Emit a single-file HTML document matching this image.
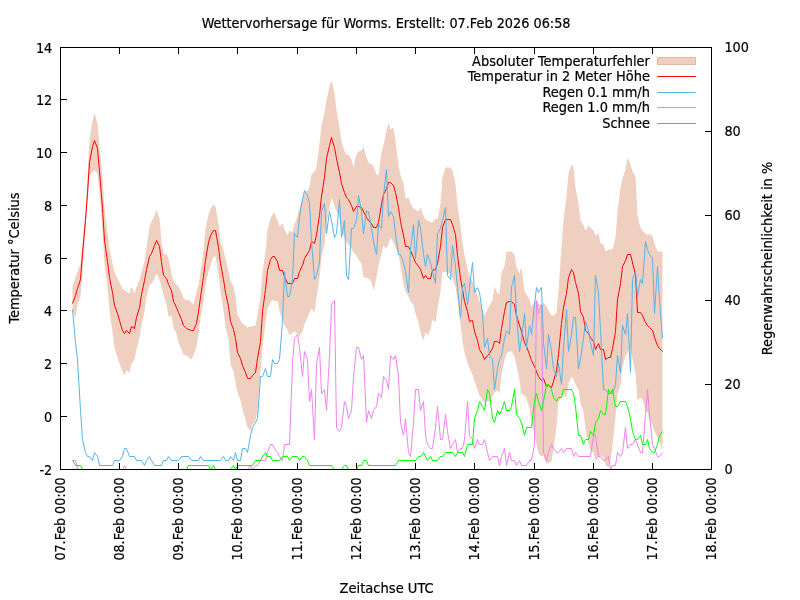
<!DOCTYPE html>
<html lang="de"><head><meta charset="utf-8"><title>Wettervorhersage für Worms</title>
<style>html,body{margin:0;padding:0;background:#fff;overflow:hidden}svg{display:block}text{font-family:"DejaVu Sans Condensed","DejaVu Sans","Liberation Sans",sans-serif;font-stretch:condensed;font-size:14.3px;fill:#000;stroke:#000;stroke-width:0.2px;stroke-linejoin:round}</style></head><body>
<svg width="800" height="600" viewBox="0 0 800 600">
<rect width="800" height="600" fill="#fff"/>
<defs><clipPath id="c"><rect x="60.5" y="47.5" width="651" height="422"/></clipPath></defs>
<g clip-path="url(#c)" fill="none" stroke-linejoin="miter" stroke-miterlimit="3.8" stroke-linecap="butt" stroke-width="1">
<path d="M72.5,286.5 L75.5,277.5 L77.5,271.5 L80.5,263.5 L82.5,243.5 L85.5,210.5 L87.5,175.5 L89.5,140.5 L92.5,120.5 L94.5,112.5 L97.5,123.5 L99.5,146.5 L102.5,177.5 L104.5,207.5 L107.5,232.5 L109.5,249.5 L112.5,263.5 L114.5,272.5 L117.5,278.5 L119.5,282.5 L122.5,288.5 L124.5,290.5 L126.5,291.5 L129.5,293.5 L131.5,286.5 L134.5,293.5 L136.5,287.5 L139.5,280.5 L141.5,272.5 L144.5,261.5 L146.5,247.5 L149.5,226.5 L151.5,221.5 L154.5,215.5 L156.5,209.5 L159.5,218.5 L161.5,241.5 L163.5,253.5 L166.5,254.5 L168.5,258.5 L171.5,273.5 L173.5,280.5 L176.5,284.5 L178.5,286.5 L181.5,292.5 L183.5,298.5 L186.5,300.5 L188.5,299.5 L191.5,302.5 L193.5,304.5 L196.5,291.5 L198.5,285.5 L200.5,271.5 L203.5,251.5 L205.5,228.5 L208.5,214.5 L210.5,208.5 L213.5,204.5 L215.5,206.5 L218.5,223.5 L220.5,241.5 L223.5,250.5 L225.5,258.5 L228.5,271.5 L230.5,280.5 L233.5,286.5 L235.5,296.5 L237.5,314.5 L240.5,320.5 L242.5,323.5 L245.5,325.5 L247.5,327.5 L250.5,326.5 L252.5,326.5 L255.5,325.5 L257.5,314.5 L260.5,297.5 L262.5,272.5 L265.5,251.5 L267.5,230.5 L270.5,218.5 L272.5,214.5 L274.5,212.5 L277.5,220.5 L279.5,226.5 L282.5,223.5 L284.5,229.5 L287.5,235.5 L289.5,230.5 L292.5,232.5 L294.5,224.5 L297.5,216.5 L299.5,207.5 L302.5,199.5 L304.5,192.5 L307.5,190.5 L309.5,187.5 L311.5,174.5 L314.5,171.5 L316.5,167.5 L319.5,143.5 L321.5,125.5 L324.5,112.5 L326.5,100.5 L329.5,86.5 L331.5,80.5 L334.5,93.5 L336.5,110.5 L339.5,127.5 L341.5,141.5 L344.5,151.5 L346.5,154.5 L348.5,154.5 L351.5,159.5 L353.5,167.5 L356.5,154.5 L358.5,151.5 L361.5,150.5 L363.5,146.5 L366.5,157.5 L368.5,162.5 L371.5,164.5 L373.5,166.5 L376.5,174.5 L378.5,175.5 L381.5,152.5 L383.5,145.5 L386.5,130.5 L388.5,122.5 L390.5,129.5 L393.5,127.5 L395.5,141.5 L398.5,165.5 L400.5,175.5 L403.5,183.5 L405.5,198.5 L408.5,197.5 L410.5,203.5 L413.5,208.5 L415.5,209.5 L418.5,211.5 L420.5,207.5 L423.5,215.5 L425.5,219.5 L427.5,220.5 L430.5,222.5 L432.5,222.5 L435.5,218.5 L437.5,219.5 L440.5,203.5 L442.5,177.5 L445.5,167.5 L447.5,167.5 L450.5,167.5 L452.5,170.5 L455.5,184.5 L457.5,205.5 L460.5,225.5 L462.5,242.5 L464.5,255.5 L467.5,268.5 L469.5,275.5 L472.5,281.5 L474.5,288.5 L477.5,295.5 L479.5,301.5 L482.5,309.5 L484.5,315.5 L487.5,309.5 L489.5,305.5 L492.5,300.5 L494.5,286.5 L497.5,293.5 L499.5,293.5 L501.5,272.5 L504.5,266.5 L506.5,251.5 L509.5,251.5 L511.5,251.5 L514.5,254.5 L516.5,267.5 L519.5,273.5 L521.5,266.5 L524.5,291.5 L526.5,294.5 L529.5,299.5 L531.5,306.5 L534.5,302.5 L536.5,300.5 L538.5,303.5 L541.5,305.5 L543.5,302.5 L546.5,306.5 L548.5,310.5 L551.5,315.5 L553.5,315.5 L556.5,312.5 L558.5,290.5 L561.5,246.5 L563.5,220.5 L566.5,196.5 L568.5,173.5 L571.5,164.5 L573.5,167.5 L575.5,187.5 L578.5,204.5 L580.5,220.5 L583.5,225.5 L585.5,230.5 L588.5,225.5 L590.5,227.5 L593.5,230.5 L595.5,235.5 L598.5,233.5 L600.5,243.5 L603.5,244.5 L605.5,251.5 L608.5,249.5 L610.5,249.5 L612.5,249.5 L615.5,237.5 L617.5,212.5 L620.5,187.5 L622.5,178.5 L625.5,169.5 L627.5,157.5 L630.5,164.5 L632.5,171.5 L635.5,176.5 L637.5,215.5 L640.5,227.5 L642.5,230.5 L645.5,233.5 L647.5,235.5 L649.5,233.5 L652.5,236.5 L654.5,243.5 L657.5,251.5 L659.5,251.5 L662.5,251.5 L662.5,450.5 L659.5,441.5 L657.5,437.5 L654.5,431.5 L652.5,424.5 L649.5,419.5 L647.5,412.5 L645.5,410.5 L642.5,399.5 L640.5,397.5 L637.5,400.5 L635.5,373.5 L632.5,358.5 L630.5,348.5 L627.5,352.5 L625.5,355.5 L622.5,367.5 L620.5,385.5 L617.5,393.5 L615.5,416.5 L612.5,445.5 L610.5,460.5 L608.5,467.5 L605.5,465.5 L603.5,457.5 L600.5,455.5 L598.5,457.5 L595.5,461.5 L593.5,452.5 L590.5,450.5 L588.5,443.5 L585.5,429.5 L583.5,411.5 L580.5,403.5 L578.5,389.5 L575.5,384.5 L573.5,379.5 L571.5,376.5 L568.5,383.5 L566.5,397.5 L563.5,393.5 L561.5,397.5 L558.5,401.5 L556.5,426.5 L553.5,448.5 L551.5,461.5 L548.5,462.5 L546.5,464.5 L543.5,455.5 L541.5,456.5 L538.5,453.5 L536.5,444.5 L534.5,434.5 L531.5,421.5 L529.5,408.5 L526.5,398.5 L524.5,395.5 L521.5,393.5 L519.5,380.5 L516.5,365.5 L514.5,356.5 L511.5,351.5 L509.5,351.5 L506.5,353.5 L504.5,360.5 L501.5,374.5 L499.5,393.5 L497.5,390.5 L494.5,392.5 L492.5,396.5 L489.5,401.5 L487.5,401.5 L484.5,402.5 L482.5,399.5 L479.5,395.5 L477.5,389.5 L474.5,381.5 L472.5,374.5 L469.5,368.5 L467.5,362.5 L464.5,352.5 L462.5,341.5 L460.5,324.5 L457.5,300.5 L455.5,286.5 L452.5,278.5 L450.5,274.5 L447.5,272.5 L445.5,272.5 L442.5,271.5 L440.5,291.5 L437.5,308.5 L435.5,322.5 L432.5,319.5 L430.5,329.5 L427.5,335.5 L425.5,331.5 L423.5,340.5 L420.5,332.5 L418.5,322.5 L415.5,313.5 L413.5,304.5 L410.5,301.5 L408.5,296.5 L405.5,291.5 L403.5,284.5 L400.5,266.5 L398.5,253.5 L395.5,247.5 L393.5,242.5 L390.5,237.5 L388.5,243.5 L386.5,248.5 L383.5,245.5 L381.5,253.5 L378.5,265.5 L376.5,277.5 L373.5,290.5 L371.5,281.5 L368.5,278.5 L366.5,277.5 L363.5,277.5 L361.5,263.5 L358.5,259.5 L356.5,255.5 L353.5,252.5 L351.5,248.5 L348.5,244.5 L346.5,242.5 L344.5,237.5 L341.5,230.5 L339.5,218.5 L336.5,211.5 L334.5,206.5 L331.5,197.5 L329.5,207.5 L326.5,223.5 L324.5,244.5 L321.5,256.5 L319.5,278.5 L316.5,297.5 L314.5,312.5 L311.5,308.5 L309.5,312.5 L307.5,317.5 L304.5,324.5 L302.5,331.5 L299.5,336.5 L297.5,333.5 L294.5,331.5 L292.5,332.5 L289.5,335.5 L287.5,329.5 L284.5,325.5 L282.5,319.5 L279.5,311.5 L277.5,300.5 L274.5,301.5 L272.5,299.5 L270.5,302.5 L267.5,308.5 L265.5,322.5 L262.5,347.5 L260.5,372.5 L257.5,409.5 L255.5,420.5 L252.5,424.5 L250.5,430.5 L247.5,427.5 L245.5,419.5 L242.5,409.5 L240.5,400.5 L237.5,392.5 L235.5,382.5 L233.5,371.5 L230.5,364.5 L228.5,338.5 L225.5,327.5 L223.5,310.5 L220.5,290.5 L218.5,274.5 L215.5,256.5 L213.5,256.5 L210.5,265.5 L208.5,271.5 L205.5,285.5 L203.5,301.5 L200.5,317.5 L198.5,333.5 L196.5,346.5 L193.5,355.5 L191.5,359.5 L188.5,357.5 L186.5,355.5 L183.5,354.5 L181.5,349.5 L178.5,342.5 L176.5,333.5 L173.5,327.5 L171.5,315.5 L168.5,316.5 L166.5,304.5 L163.5,294.5 L161.5,287.5 L159.5,279.5 L156.5,273.5 L154.5,278.5 L151.5,283.5 L149.5,285.5 L146.5,296.5 L144.5,311.5 L141.5,325.5 L139.5,337.5 L136.5,349.5 L134.5,359.5 L131.5,363.5 L129.5,372.5 L126.5,370.5 L124.5,375.5 L122.5,371.5 L119.5,363.5 L117.5,357.5 L114.5,347.5 L112.5,332.5 L109.5,310.5 L107.5,286.5 L104.5,264.5 L102.5,230.5 L99.5,190.5 L97.5,173.5 L94.5,170.5 L92.5,172.5 L89.5,175.5 L87.5,200.5 L85.5,229.5 L82.5,272.5 L80.5,296.5 L77.5,304.5 L75.5,317.5 L72.5,310.5Z" fill="#efcfbf" stroke="none"/>
<path d="M72.5,303.5 L75.5,295.5 L77.5,288.5 L80.5,279.5 L82.5,253.5 L85.5,220.5 L87.5,193.5 L89.5,162.5 L92.5,146.5 L94.5,140.5 L97.5,148.5 L99.5,171.5 L102.5,208.5 L104.5,240.5 L107.5,261.5 L109.5,277.5 L112.5,292.5 L114.5,305.5 L117.5,313.5 L119.5,320.5 L122.5,330.5 L124.5,333.5 L126.5,330.5 L129.5,333.5 L131.5,326.5 L134.5,328.5 L136.5,317.5 L139.5,307.5 L141.5,294.5 L144.5,280.5 L146.5,269.5 L149.5,256.5 L151.5,253.5 L154.5,245.5 L156.5,240.5 L159.5,246.5 L161.5,262.5 L163.5,275.5 L166.5,278.5 L168.5,284.5 L171.5,290.5 L173.5,301.5 L176.5,307.5 L178.5,312.5 L181.5,319.5 L183.5,325.5 L186.5,328.5 L188.5,329.5 L191.5,330.5 L193.5,330.5 L196.5,323.5 L198.5,311.5 L203.5,276.5 L205.5,260.5 L208.5,242.5 L210.5,235.5 L213.5,230.5 L215.5,230.5 L218.5,247.5 L220.5,263.5 L223.5,279.5 L225.5,292.5 L228.5,306.5 L230.5,321.5 L233.5,329.5 L235.5,338.5 L237.5,352.5 L240.5,358.5 L242.5,365.5 L245.5,372.5 L247.5,378.5 L250.5,378.5 L252.5,375.5 L255.5,372.5 L257.5,358.5 L260.5,341.5 L262.5,311.5 L265.5,289.5 L267.5,270.5 L270.5,259.5 L272.5,256.5 L274.5,256.5 L277.5,261.5 L279.5,270.5 L282.5,270.5 L284.5,276.5 L287.5,283.5 L292.5,283.5 L294.5,278.5 L297.5,278.5 L299.5,271.5 L302.5,265.5 L304.5,258.5 L307.5,253.5 L309.5,250.5 L311.5,241.5 L314.5,243.5 L316.5,234.5 L319.5,215.5 L321.5,196.5 L324.5,177.5 L326.5,158.5 L329.5,145.5 L331.5,137.5 L334.5,147.5 L336.5,158.5 L339.5,172.5 L341.5,183.5 L344.5,192.5 L346.5,197.5 L348.5,199.5 L351.5,205.5 L353.5,211.5 L356.5,206.5 L358.5,206.5 L361.5,207.5 L366.5,217.5 L368.5,220.5 L371.5,223.5 L373.5,227.5 L376.5,227.5 L378.5,222.5 L381.5,204.5 L383.5,194.5 L386.5,188.5 L388.5,182.5 L390.5,182.5 L393.5,185.5 L395.5,192.5 L398.5,207.5 L400.5,221.5 L403.5,235.5 L405.5,246.5 L408.5,246.5 L410.5,250.5 L413.5,257.5 L415.5,262.5 L418.5,266.5 L420.5,269.5 L423.5,278.5 L425.5,275.5 L427.5,278.5 L430.5,278.5 L432.5,270.5 L435.5,269.5 L437.5,263.5 L440.5,246.5 L442.5,227.5 L445.5,219.5 L450.5,219.5 L452.5,224.5 L455.5,234.5 L457.5,255.5 L460.5,278.5 L462.5,289.5 L464.5,301.5 L467.5,311.5 L469.5,321.5 L472.5,320.5 L474.5,331.5 L477.5,340.5 L479.5,349.5 L482.5,354.5 L484.5,359.5 L487.5,355.5 L489.5,353.5 L492.5,348.5 L494.5,341.5 L497.5,341.5 L499.5,343.5 L501.5,328.5 L504.5,311.5 L506.5,302.5 L509.5,301.5 L511.5,301.5 L514.5,304.5 L516.5,315.5 L519.5,325.5 L521.5,331.5 L524.5,342.5 L526.5,346.5 L529.5,354.5 L531.5,360.5 L534.5,366.5 L538.5,376.5 L541.5,380.5 L543.5,378.5 L546.5,386.5 L548.5,385.5 L551.5,387.5 L553.5,381.5 L556.5,370.5 L558.5,354.5 L561.5,323.5 L563.5,307.5 L566.5,293.5 L568.5,277.5 L571.5,269.5 L573.5,272.5 L575.5,282.5 L578.5,293.5 L580.5,311.5 L583.5,317.5 L585.5,330.5 L588.5,333.5 L590.5,337.5 L593.5,341.5 L595.5,349.5 L598.5,343.5 L600.5,349.5 L603.5,349.5 L605.5,359.5 L608.5,357.5 L610.5,357.5 L612.5,348.5 L615.5,331.5 L617.5,299.5 L620.5,283.5 L622.5,266.5 L625.5,260.5 L627.5,254.5 L630.5,254.5 L635.5,274.5 L637.5,312.5 L640.5,312.5 L642.5,315.5 L645.5,322.5 L647.5,325.5 L652.5,330.5 L654.5,337.5 L657.5,345.5 L659.5,348.5 L662.5,351.5" stroke="#ff0000"/>
<path d="M72.5,309.5 L75.5,342.5 L77.5,359.5 L80.5,410.5 L82.5,439.5 L85.5,452.5 L87.5,456.5 L89.5,456.5 L92.5,460.5 L94.5,452.5 L97.5,456.5 L99.5,465.5 L112.5,465.5 L114.5,460.5 L119.5,460.5 L122.5,456.5 L124.5,448.5 L126.5,448.5 L129.5,456.5 L134.5,456.5 L136.5,460.5 L141.5,460.5 L144.5,465.5 L146.5,460.5 L149.5,456.5 L151.5,460.5 L154.5,465.5 L161.5,465.5 L163.5,460.5 L166.5,460.5 L168.5,456.5 L171.5,460.5 L178.5,460.5 L181.5,456.5 L188.5,456.5 L191.5,460.5 L198.5,460.5 L200.5,456.5 L203.5,460.5 L220.5,460.5 L223.5,456.5 L225.5,460.5 L228.5,460.5 L230.5,456.5 L233.5,460.5 L235.5,452.5 L237.5,460.5 L240.5,460.5 L242.5,448.5 L245.5,448.5 L247.5,452.5 L250.5,435.5 L252.5,427.5 L255.5,422.5 L257.5,418.5 L260.5,376.5 L262.5,376.5 L265.5,368.5 L267.5,376.5 L270.5,376.5 L272.5,359.5 L274.5,363.5 L277.5,363.5 L279.5,359.5 L282.5,321.5 L284.5,271.5 L287.5,296.5 L289.5,296.5 L292.5,279.5 L294.5,233.5 L297.5,237.5 L299.5,216.5 L302.5,199.5 L304.5,190.5 L307.5,195.5 L309.5,203.5 L311.5,241.5 L314.5,279.5 L316.5,275.5 L319.5,262.5 L321.5,211.5 L324.5,203.5 L326.5,233.5 L329.5,211.5 L331.5,220.5 L334.5,237.5 L336.5,233.5 L339.5,199.5 L341.5,237.5 L344.5,220.5 L346.5,275.5 L348.5,279.5 L351.5,228.5 L353.5,228.5 L356.5,220.5 L358.5,195.5 L361.5,211.5 L363.5,233.5 L366.5,211.5 L368.5,211.5 L371.5,228.5 L373.5,241.5 L376.5,254.5 L378.5,224.5 L381.5,228.5 L383.5,195.5 L386.5,169.5 L388.5,216.5 L390.5,211.5 L393.5,216.5 L395.5,233.5 L398.5,254.5 L400.5,254.5 L403.5,262.5 L405.5,271.5 L408.5,292.5 L410.5,249.5 L413.5,224.5 L415.5,258.5 L418.5,220.5 L420.5,228.5 L423.5,254.5 L425.5,266.5 L427.5,254.5 L430.5,262.5 L432.5,271.5 L435.5,283.5 L437.5,233.5 L440.5,228.5 L442.5,220.5 L445.5,207.5 L447.5,275.5 L450.5,279.5 L452.5,245.5 L455.5,266.5 L457.5,287.5 L460.5,317.5 L462.5,287.5 L464.5,283.5 L467.5,304.5 L469.5,287.5 L472.5,262.5 L474.5,292.5 L477.5,287.5 L479.5,292.5 L482.5,313.5 L484.5,347.5 L487.5,338.5 L489.5,355.5 L492.5,359.5 L494.5,389.5 L497.5,368.5 L499.5,359.5 L501.5,355.5 L504.5,338.5 L506.5,330.5 L509.5,334.5 L511.5,287.5 L514.5,275.5 L516.5,313.5 L519.5,351.5 L521.5,338.5 L524.5,313.5 L526.5,347.5 L529.5,325.5 L531.5,334.5 L534.5,304.5 L536.5,287.5 L538.5,292.5 L541.5,287.5 L543.5,342.5 L546.5,368.5 L548.5,334.5 L551.5,351.5 L553.5,368.5 L556.5,376.5 L558.5,363.5 L561.5,384.5 L563.5,347.5 L566.5,309.5 L568.5,351.5 L571.5,334.5 L573.5,317.5 L575.5,317.5 L578.5,368.5 L580.5,359.5 L583.5,338.5 L585.5,321.5 L588.5,330.5 L590.5,342.5 L593.5,355.5 L595.5,275.5 L598.5,292.5 L600.5,330.5 L603.5,389.5 L605.5,389.5 L608.5,393.5 L612.5,393.5 L615.5,384.5 L617.5,355.5 L620.5,372.5 L622.5,325.5 L625.5,334.5 L627.5,313.5 L630.5,372.5 L632.5,279.5 L635.5,271.5 L637.5,296.5 L640.5,279.5 L642.5,283.5 L645.5,241.5 L647.5,249.5 L649.5,254.5 L652.5,258.5 L654.5,313.5 L657.5,266.5 L659.5,300.5 L662.5,338.5" stroke="#56b4e9"/>
<path d="M72.5,460.5 L75.5,460.5 L77.5,469.5 L122.5,469.5 L124.5,465.5 L126.5,469.5 L247.5,469.5 L250.5,465.5 L252.5,469.5 L255.5,465.5 L257.5,465.5 L260.5,460.5 L265.5,460.5 L267.5,452.5 L270.5,444.5 L272.5,444.5 L274.5,448.5 L277.5,452.5 L279.5,456.5 L282.5,460.5 L284.5,444.5 L289.5,444.5 L292.5,363.5 L294.5,338.5 L297.5,334.5 L299.5,347.5 L302.5,376.5 L304.5,351.5 L307.5,359.5 L309.5,401.5 L311.5,389.5 L314.5,439.5 L316.5,363.5 L319.5,347.5 L321.5,393.5 L324.5,389.5 L326.5,410.5 L329.5,355.5 L331.5,304.5 L334.5,300.5 L336.5,427.5 L339.5,431.5 L341.5,427.5 L344.5,401.5 L346.5,406.5 L348.5,418.5 L351.5,410.5 L353.5,376.5 L356.5,347.5 L358.5,347.5 L361.5,359.5 L363.5,355.5 L366.5,422.5 L368.5,410.5 L371.5,418.5 L373.5,410.5 L376.5,406.5 L378.5,393.5 L381.5,397.5 L383.5,376.5 L386.5,380.5 L388.5,389.5 L390.5,355.5 L393.5,359.5 L395.5,355.5 L398.5,376.5 L400.5,422.5 L403.5,435.5 L405.5,418.5 L408.5,452.5 L410.5,456.5 L413.5,422.5 L415.5,389.5 L418.5,389.5 L420.5,410.5 L423.5,401.5 L425.5,435.5 L427.5,444.5 L430.5,448.5 L432.5,448.5 L435.5,427.5 L437.5,406.5 L440.5,439.5 L442.5,439.5 L445.5,414.5 L447.5,431.5 L450.5,448.5 L452.5,444.5 L455.5,439.5 L457.5,452.5 L460.5,448.5 L462.5,448.5 L464.5,439.5 L467.5,401.5 L469.5,435.5 L472.5,439.5 L474.5,448.5 L477.5,439.5 L479.5,444.5 L482.5,444.5 L484.5,439.5 L487.5,452.5 L489.5,460.5 L492.5,456.5 L497.5,456.5 L499.5,465.5 L501.5,456.5 L504.5,448.5 L506.5,465.5 L509.5,452.5 L511.5,460.5 L514.5,460.5 L516.5,465.5 L519.5,460.5 L521.5,465.5 L526.5,465.5 L529.5,460.5 L531.5,460.5 L534.5,444.5 L536.5,300.5 L538.5,313.5 L541.5,304.5 L543.5,452.5 L546.5,460.5 L548.5,452.5 L551.5,444.5 L553.5,448.5 L556.5,452.5 L558.5,452.5 L561.5,448.5 L563.5,452.5 L566.5,448.5 L571.5,448.5 L573.5,456.5 L575.5,452.5 L578.5,456.5 L590.5,456.5 L593.5,435.5 L595.5,435.5 L598.5,456.5 L600.5,456.5 L603.5,460.5 L605.5,460.5 L608.5,456.5 L610.5,469.5 L612.5,465.5 L615.5,465.5 L617.5,452.5 L620.5,456.5 L622.5,452.5 L625.5,427.5 L627.5,448.5 L630.5,444.5 L632.5,444.5 L635.5,439.5 L637.5,444.5 L640.5,452.5 L642.5,452.5 L645.5,414.5 L647.5,389.5 L649.5,414.5 L652.5,444.5 L654.5,448.5 L657.5,456.5 L659.5,456.5 L662.5,452.5" stroke="#ee82ee"/>
<path d="M72.5,460.5 L75.5,465.5 L80.5,465.5 L82.5,469.5 L186.5,469.5 L188.5,465.5 L208.5,465.5 L210.5,469.5 L213.5,465.5 L215.5,469.5 L230.5,469.5 L233.5,465.5 L235.5,469.5 L237.5,465.5 L252.5,465.5 L255.5,460.5 L260.5,460.5 L262.5,456.5 L265.5,452.5 L267.5,456.5 L270.5,456.5 L272.5,460.5 L279.5,460.5 L282.5,456.5 L287.5,456.5 L289.5,460.5 L292.5,456.5 L297.5,456.5 L299.5,460.5 L302.5,456.5 L304.5,456.5 L307.5,460.5 L309.5,465.5 L331.5,465.5 L334.5,469.5 L341.5,469.5 L344.5,465.5 L346.5,465.5 L348.5,469.5 L356.5,469.5 L358.5,465.5 L361.5,465.5 L363.5,460.5 L366.5,460.5 L368.5,465.5 L395.5,465.5 L398.5,460.5 L415.5,460.5 L418.5,456.5 L420.5,456.5 L423.5,452.5 L427.5,460.5 L430.5,456.5 L432.5,460.5 L437.5,460.5 L440.5,456.5 L442.5,456.5 L445.5,452.5 L452.5,452.5 L455.5,456.5 L457.5,452.5 L462.5,452.5 L464.5,456.5 L467.5,444.5 L472.5,444.5 L474.5,418.5 L477.5,410.5 L479.5,401.5 L482.5,406.5 L484.5,410.5 L487.5,389.5 L489.5,393.5 L492.5,418.5 L494.5,422.5 L497.5,410.5 L499.5,414.5 L501.5,410.5 L504.5,401.5 L506.5,410.5 L509.5,410.5 L511.5,406.5 L514.5,389.5 L516.5,414.5 L519.5,418.5 L521.5,422.5 L524.5,435.5 L526.5,427.5 L531.5,427.5 L534.5,401.5 L536.5,393.5 L538.5,401.5 L541.5,410.5 L543.5,401.5 L546.5,384.5 L548.5,384.5 L551.5,389.5 L553.5,397.5 L556.5,401.5 L558.5,397.5 L561.5,397.5 L563.5,389.5 L571.5,389.5 L573.5,393.5 L575.5,406.5 L578.5,435.5 L580.5,435.5 L583.5,444.5 L585.5,439.5 L588.5,439.5 L590.5,431.5 L593.5,435.5 L595.5,422.5 L598.5,418.5 L600.5,410.5 L603.5,414.5 L605.5,414.5 L608.5,389.5 L610.5,393.5 L612.5,389.5 L615.5,406.5 L617.5,406.5 L620.5,401.5 L625.5,401.5 L627.5,406.5 L630.5,418.5 L632.5,431.5 L635.5,439.5 L637.5,439.5 L640.5,435.5 L642.5,444.5 L645.5,444.5 L647.5,439.5 L649.5,448.5 L652.5,452.5 L654.5,452.5 L657.5,444.5 L659.5,435.5 L662.5,431.5" stroke="#00ff00"/>
</g>
<path d="M60.5,469.5v-6.5M60.5,47.5v6.5M119.5,469.5v-6.5M119.5,47.5v6.5M178.5,469.5v-6.5M178.5,47.5v6.5M237.5,469.5v-6.5M237.5,47.5v6.5M297.5,469.5v-6.5M297.5,47.5v6.5M356.5,469.5v-6.5M356.5,47.5v6.5M415.5,469.5v-6.5M415.5,47.5v6.5M474.5,469.5v-6.5M474.5,47.5v6.5M534.5,469.5v-6.5M534.5,47.5v6.5M593.5,469.5v-6.5M593.5,47.5v6.5M652.5,469.5v-6.5M652.5,47.5v6.5M711.5,469.5v-6.5M711.5,47.5v6.5M60.5,47.5h6.5M60.5,99.5h6.5M60.5,152.5h6.5M60.5,205.5h6.5M60.5,258.5h6.5M60.5,310.5h6.5M60.5,363.5h6.5M60.5,416.5h6.5M60.5,469.5h6.5M711.5,47.5h-6.5M711.5,131.5h-6.5M711.5,215.5h-6.5M711.5,300.5h-6.5M711.5,384.5h-6.5M711.5,469.5h-6.5" stroke="#000" stroke-width="1" fill="none"/>
<rect x="60.5" y="47.5" width="651.0" height="422.0" fill="none" stroke="#000" stroke-width="1"/>
<text transform="translate(52.3,52.5)" text-anchor="end">14</text>
<text transform="translate(52.3,104.5)" text-anchor="end">12</text>
<text transform="translate(52.3,157.5)" text-anchor="end">10</text>
<text transform="translate(52.3,210.5)" text-anchor="end">8</text>
<text transform="translate(52.3,263.5)" text-anchor="end">6</text>
<text transform="translate(52.3,315.5)" text-anchor="end">4</text>
<text transform="translate(52.3,368.5)" text-anchor="end">2</text>
<text transform="translate(52.3,421.5)" text-anchor="end">0</text>
<text transform="translate(52.3,474.5)" text-anchor="end">-2</text>
<text transform="translate(724.4,51.8)" text-anchor="start">100</text>
<text transform="translate(724.4,135.8)" text-anchor="start">80</text>
<text transform="translate(724.4,219.8)" text-anchor="start">60</text>
<text transform="translate(724.4,304.8)" text-anchor="start">40</text>
<text transform="translate(724.4,388.8)" text-anchor="start">20</text>
<text transform="translate(724.4,473.8)" text-anchor="start">0</text>
<text transform="translate(64.8,477.3) rotate(-90) scale(0.988,1)" text-anchor="end">07.Feb 00:00</text>
<text transform="translate(123.8,477.3) rotate(-90) scale(0.988,1)" text-anchor="end">08.Feb 00:00</text>
<text transform="translate(182.8,477.3) rotate(-90) scale(0.988,1)" text-anchor="end">09.Feb 00:00</text>
<text transform="translate(241.8,477.3) rotate(-90) scale(0.988,1)" text-anchor="end">10.Feb 00:00</text>
<text transform="translate(301.8,477.3) rotate(-90) scale(0.988,1)" text-anchor="end">11.Feb 00:00</text>
<text transform="translate(360.8,477.3) rotate(-90) scale(0.988,1)" text-anchor="end">12.Feb 00:00</text>
<text transform="translate(419.8,477.3) rotate(-90) scale(0.988,1)" text-anchor="end">13.Feb 00:00</text>
<text transform="translate(478.8,477.3) rotate(-90) scale(0.988,1)" text-anchor="end">14.Feb 00:00</text>
<text transform="translate(538.8,477.3) rotate(-90) scale(0.988,1)" text-anchor="end">15.Feb 00:00</text>
<text transform="translate(597.8,477.3) rotate(-90) scale(0.988,1)" text-anchor="end">16.Feb 00:00</text>
<text transform="translate(656.8,477.3) rotate(-90) scale(0.988,1)" text-anchor="end">17.Feb 00:00</text>
<text transform="translate(715.8,477.3) rotate(-90) scale(0.988,1)" text-anchor="end">18.Feb 00:00</text>
<text transform="translate(386.1,28.4) scale(1.001,1)" text-anchor="middle">Wettervorhersage für Worms. Erstellt: 07.Feb 2026 06:58</text>
<text transform="translate(386.6,593.3) scale(1.019,1)" text-anchor="middle">Zeitachse UTC</text>
<text transform="translate(19,258) rotate(-90) scale(1.012,1)" text-anchor="middle">Temperatur °Celsius</text>
<text transform="translate(772,258.5) rotate(-90) scale(1.009,1)" text-anchor="middle">Regenwahrscheinlichkeit in %</text>
<text transform="translate(649.9,65.5) scale(1.008,1)" text-anchor="end">Absoluter Temperaturfehler</text>
<rect x="657.5" y="57.5" width="38" height="7" fill="#efcfbf" stroke="#e7b8a0" stroke-width="1"/>
<text transform="translate(649.9,81) scale(1.008,1)" text-anchor="end">Temperatur in 2 Meter Höhe</text>
<path d="M657.5,76.5h38" stroke="#ff0000" stroke-width="1" stroke-linecap="round" fill="none"/>
<text transform="translate(649.9,97) scale(1.008,1)" text-anchor="end">Regen 0.1 mm/h</text>
<path d="M657.5,92.5h38" stroke="#56b4e9" stroke-width="1" stroke-linecap="round" fill="none"/>
<text transform="translate(649.9,112) scale(1.008,1)" text-anchor="end">Regen 1.0 mm/h</text>
<path d="M657.5,107.5h38" stroke="#ee82ee" stroke-width="1" stroke-linecap="round" fill="none"/>
<text transform="translate(649.9,128) scale(1.008,1)" text-anchor="end">Schnee</text>
<path d="M657.5,123.5h38" stroke="#00ff00" stroke-width="1" stroke-linecap="round" fill="none"/>
</svg></body></html>
